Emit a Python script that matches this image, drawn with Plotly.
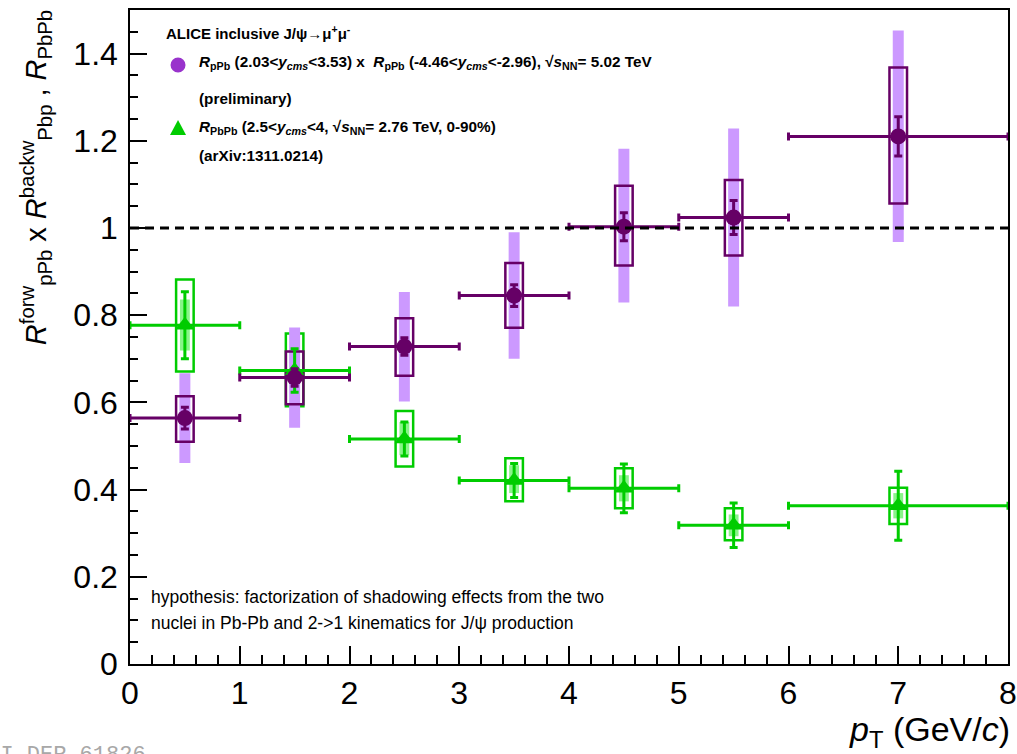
import plotly.graph_objects as go

# ---------------- data ----------------
pt = [0.5, 1.5, 2.5, 3.5, 4.5, 5.5, 7.0]
pt_halfwidth = [0.5, 0.5, 0.5, 0.5, 0.5, 0.5, 1.0]

# R_pPb(forw) x R_pPb(backw), sqrt(sNN)=5.02 TeV (preliminary)
ppb_val = [0.564, 0.657, 0.728, 0.845, 1.003, 1.024, 1.210]
ppb_stat = [0.025, 0.020, 0.020, 0.025, 0.032, 0.039, 0.045]
ppb_box_lo = [0.510, 0.596, 0.661, 0.771, 0.914, 0.937, 1.056]
ppb_box_hi = [0.614, 0.717, 0.793, 0.920, 1.097, 1.110, 1.368]
ppb_band_lo = [0.461, 0.542, 0.602, 0.700, 0.829, 0.820, 0.968]
ppb_band_hi = [0.667, 0.772, 0.853, 0.990, 1.182, 1.228, 1.453]

# R_PbPb, sqrt(sNN)=2.76 TeV, 0-90%
pbpb_val = [0.777, 0.673, 0.516, 0.421, 0.403, 0.318, 0.363]
pbpb_stat = [0.077, 0.050, 0.039, 0.039, 0.056, 0.051, 0.079]
pbpb_box_lo = [0.671, 0.591, 0.453, 0.373, 0.357, 0.284, 0.321]
pbpb_box_hi = [0.882, 0.758, 0.580, 0.472, 0.449, 0.357, 0.404]
pbpb_unc_lo = [0.719, 0.633, 0.479, 0.392, 0.373, 0.293, 0.334]
pbpb_unc_hi = [0.836, 0.713, 0.555, 0.456, 0.433, 0.343, 0.392]

x_ticks = [0, 1, 2, 3, 4, 5, 6, 7, 8]
y_ticks = [0, 0.2, 0.4, 0.6, 0.8, 1.0, 1.2, 1.4]

# ---------------- styles ----------------
FONT = "Liberation Sans, Arial, Helvetica, sans-serif"
PURPLE = "#660066"
PURPLE_LIGHT = "#cc99ff"
PURPLE_LEG = "#9933cc"
GREEN = "#00cc00"
GREEN_LIGHT = "rgba(40,235,40,0.55)"


def heights(lo, hi):
    return [h - l for l, h in zip(lo, hi)]


fig = go.Figure()

# PbPb boxes
fig.add_trace(go.Bar(x=pt, y=heights(pbpb_box_lo, pbpb_box_hi), base=pbpb_box_lo, width=0.16,
                     marker=dict(color="rgba(0,0,0,0)", line=dict(color=GREEN, width=2.5)),
                     showlegend=False, hoverinfo="skip"))
fig.add_trace(go.Bar(x=pt, y=heights(pbpb_unc_lo, pbpb_unc_hi), base=pbpb_unc_lo, width=0.09,
                     marker=dict(color=GREEN_LIGHT, line=dict(width=0)),
                     showlegend=False, hoverinfo="skip"))
# pPb bands and boxes
fig.add_trace(go.Bar(x=pt, y=heights(ppb_band_lo, ppb_band_hi), base=ppb_band_lo, width=0.10,
                     marker=dict(color=PURPLE_LIGHT, line=dict(width=0)),
                     showlegend=False, hoverinfo="skip"))
fig.add_trace(go.Bar(x=pt, y=heights(ppb_box_lo, ppb_box_hi), base=ppb_box_lo, width=0.16,
                     marker=dict(color="rgba(0,0,0,0)", line=dict(color=PURPLE, width=2.5)),
                     showlegend=False, hoverinfo="skip"))

# points with stat errors and bin widths
fig.add_trace(go.Scatter(x=pt, y=pbpb_val, mode="markers",
                         marker=dict(symbol="triangle-up", size=17, color=GREEN),
                         error_y=dict(type="data", array=pbpb_stat, color=GREEN, thickness=3, width=4),
                         error_x=dict(type="data", array=pt_halfwidth, color=GREEN, thickness=3, width=4),
                         showlegend=False, hoverinfo="skip"))
fig.add_trace(go.Scatter(x=pt, y=ppb_val, mode="markers",
                         marker=dict(symbol="circle", size=16, color=PURPLE),
                         error_y=dict(type="data", array=ppb_stat, color=PURPLE, thickness=3, width=4),
                         error_x=dict(type="data", array=pt_halfwidth, color=PURPLE, thickness=3, width=4),
                         showlegend=False, hoverinfo="skip"))

# reference line at 1
fig.add_shape(type="line", xref="paper", x0=0, x1=1, yref="y", y0=1, y1=1,
              line=dict(color="black", width=3, dash="9px,6px"), layer="above")

# legend symbols (pixel sized shapes anchored in paper coordinates)
fig.add_shape(type="circle", xref="paper", yref="paper", xsizemode="pixel", ysizemode="pixel",
              xanchor=0.0547, yanchor=0.916, x0=-7.5, x1=7.5, y0=-7.5, y1=7.5,
              fillcolor=PURPLE_LEG, line=dict(width=0))
fig.add_shape(type="path", xref="paper", yref="paper", xsizemode="pixel", ysizemode="pixel",
              xanchor=0.0547, yanchor=0.8196, path="M -8 -7 L 8 -7 L 0 8 Z",
              fillcolor=GREEN, line=dict(width=0))

annotations = []


def ann(text, x, y, size=15.3, xanchor="left", yanchor="middle", **kw):
    annotations.append(dict(text=text, x=x, y=y, xref="paper", yref="paper", showarrow=False,
                            xanchor=xanchor, yanchor=yanchor,
                            font=dict(family=FONT, size=size, color=kw.pop("color", "black")), **kw))


ann("<b>ALICE inclusive J/ψ→μ<sup>+</sup>μ<sup>-</sup></b>", 0.0387, 0.965, size=15)
ann("<b><i>R</i><sub>pPb</sub> (2.03&lt;<i>y</i><sub><i>cms</i></sub>&lt;3.53) x  <i>R</i><sub>pPb</sub> "
    "(-4.46&lt;<i>y</i><sub><i>cms</i></sub>&lt;-2.96), √<i>s</i><sub>NN</sub>= 5.02 TeV</b>", 0.0763, 0.919)
ann("<b>(preliminary)</b>", 0.0763, 0.865)
ann("<b><i>R</i><sub>PbPb</sub> (2.5&lt;<i>y</i><sub><i>cms</i></sub>&lt;4, √<i>s</i><sub>NN</sub>= 2.76 TeV, 0-90%)</b>",
    0.0763, 0.8196)
ann("<b>(arXiv:1311.0214)</b>", 0.0763, 0.778)

ann("hypothesis: factorization of shadowing effects from the two", 0.0216, 0.1024, size=17.5)
ann("nuclei in Pb-Pb and 2-&gt;1 kinematics for J/ψ production", 0.0216, 0.0627, size=17.5)

# axis titles
ann("<i>p</i><sub>T</sub> (GeV/<i>c</i>)", 1.004, -0.103, size=34, xanchor="right")
ann("<i>R</i><sup>forw</sup><sub>pPb</sub> x <i>R</i><sup>backw</sup><sub>Pbp</sub> , <i>R</i><sub>PbPb</sub>",
    -0.107, 0.743, size=29, xanchor="center", textangle=-90)

# watermark
annotations.append(dict(text="ALI-DER-61826", x=-0.180, y=-0.117, xref="paper", yref="paper",
                        showarrow=False, xanchor="left", yanchor="top",
                        font=dict(family="Liberation Mono, DejaVu Sans Mono, monospace", size=22,
                                  color="#a8a8a8")))

axis_common = dict(showline=True, linecolor="black", linewidth=1.5, mirror=True,
                   ticks="inside", tickcolor="black", tickwidth=1.5,
                   showgrid=False, zeroline=False, automargin=False,
                   tickfont=dict(family=FONT, size=32, color="black"))

fig.update_layout(
    width=1017, height=754,
    margin=dict(l=130, r=9, t=10, b=90),
    paper_bgcolor="white", plot_bgcolor="white",
    barmode="overlay",
    showlegend=False,
    font=dict(family=FONT, color="black"),
    annotations=annotations,
    xaxis=dict(range=[0, 8], tickvals=x_ticks, ticklen=18,
               minor=dict(ticks="inside", dtick=0.2, tick0=0, ticklen=9, tickwidth=1.5, tickcolor="black"),
               ticklabelstandoff=0, **axis_common),
    yaxis=dict(range=[0, 1.5], tickvals=y_ticks, ticklen=17,
               minor=dict(ticks="inside", dtick=0.05, tick0=0, ticklen=8, tickwidth=1.5, tickcolor="black"),
               ticklabelstandoff=4, **axis_common),
)

fig.write_html("out.html")
